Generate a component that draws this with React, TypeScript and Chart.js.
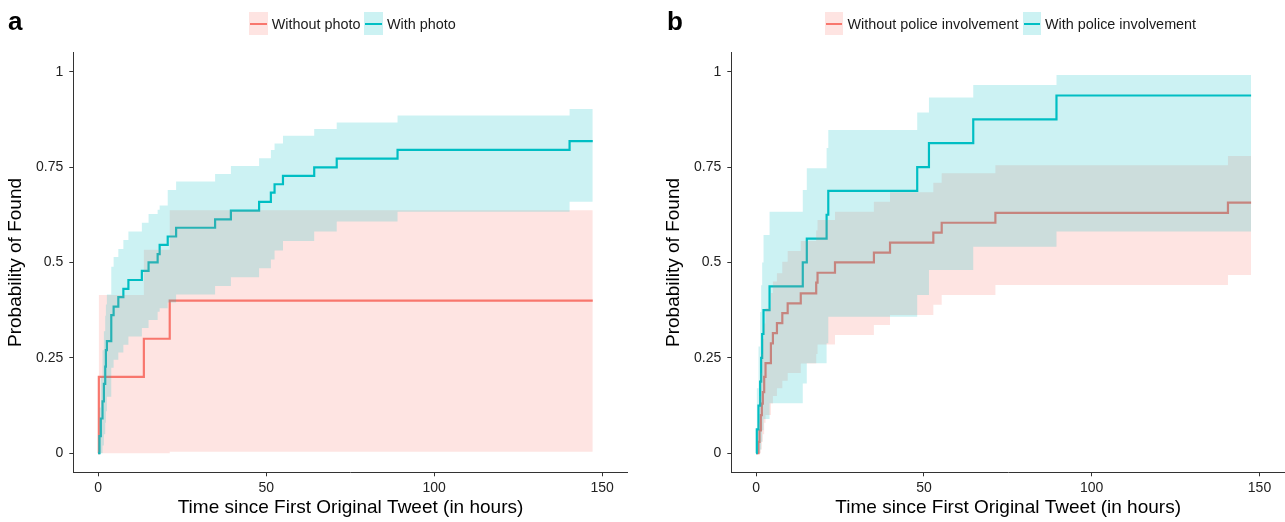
import React, { useEffect, useRef } from "react";
import { Chart, registerables } from "chart.js";

Chart.register(...registerables);

const FONT = "'Liberation Sans', Arial, Helvetica, sans-serif";
const RED = "#F8766D";
const CYAN = "#00BFC4";
const RED_FILL = "rgba(248,118,109,0.2)";
const CYAN_FILL = "rgba(0,191,196,0.2)";
const TRANSPARENT = "rgba(0,0,0,0)";

// ---------- shared axis setup ----------
const xTicks = [0, 50, 100, 150];
const yTicks = [0, 0.25, 0.5, 0.75, 1];
const yTickLabels = ["0", "0.25", "0.5", "0.75", "1"];
const xTitle = "Time since First Original Tweet (in hours)";
const yTitle = "Probability of Found";

// ---------- panel a ----------
const aLegend = ["Without photo", "With photo"];

const aNoPhotoTime = [0, 0.2, 13.6, 21.3, 147.2];
const aNoPhotoSurv = [0, 0.2, 0.3, 0.4, 0.4];
const aNoPhotoUpper = [0, 0.415, 0.533, 0.637, 0.637];
const aNoPhotoLower = [0, 0, 0, 0.004, 0.004];

const aPhotoTime = [0, 0.4, 0.8, 1.3, 1.7, 2.1, 2.3, 2.6, 3.9, 4.6, 6.0, 7.5, 9.0, 13.0, 15.0, 17.7, 18.3, 20.7, 23.2, 34.8, 39.5, 47.9, 51.4, 52.5, 55.0, 64.3, 71.0, 89.1, 140.3, 147.2];
const aPhotoSurv = [0, 0.045, 0.091, 0.136, 0.182, 0.227, 0.27, 0.294, 0.362, 0.384, 0.409, 0.431, 0.454, 0.478, 0.5, 0.522, 0.546, 0.568, 0.591, 0.613, 0.636, 0.659, 0.683, 0.705, 0.727, 0.749, 0.772, 0.795, 0.818, 0.818];
const aPhotoUpper = [0, 0.12, 0.2, 0.27, 0.32, 0.36, 0.39, 0.416, 0.489, 0.514, 0.535, 0.559, 0.581, 0.604, 0.627, 0.638, 0.649, 0.69, 0.712, 0.732, 0.753, 0.773, 0.795, 0.812, 0.832, 0.85, 0.867, 0.885, 0.902, 0.902];
const aPhotoLower = [0, 0, 0, 0.02, 0.05, 0.08, 0.11, 0.148, 0.224, 0.245, 0.264, 0.284, 0.306, 0.328, 0.349, 0.371, 0.38, 0.395, 0.416, 0.438, 0.461, 0.485, 0.508, 0.531, 0.556, 0.581, 0.607, 0.633, 0.659, 0.659];

// ---------- panel b ----------
const bLegend = ["Without police involvement", "With police involvement"];

const bNoPoliceTime = [0, 0.7, 1.0, 1.4, 1.7, 2.0, 2.4, 2.8, 4.4, 5.0, 6.2, 7.8, 9.4, 13.3, 17.9, 18.3, 23.5, 35.1, 39.9, 52.8, 55.3, 71.3, 140.6, 147.5];
const bNoPoliceSurv = [0, 0.03, 0.06, 0.1, 0.13, 0.16, 0.2, 0.236, 0.288, 0.315, 0.341, 0.367, 0.393, 0.419, 0.447, 0.473, 0.5, 0.526, 0.552, 0.578, 0.604, 0.63, 0.657, 0.657];
const bNoPoliceUpper = [0, 0.08, 0.15, 0.21, 0.26, 0.3, 0.34, 0.38, 0.42, 0.45, 0.472, 0.502, 0.53, 0.556, 0.584, 0.611, 0.633, 0.659, 0.684, 0.709, 0.734, 0.755, 0.779, 0.779];
const bNoPoliceLower = [0, 0, 0, 0.01, 0.03, 0.05, 0.08, 0.1, 0.13, 0.15, 0.17, 0.19, 0.21, 0.235, 0.26, 0.285, 0.31, 0.336, 0.362, 0.389, 0.415, 0.441, 0.467, 0.467];

const bPoliceTime = [0, 0.2, 0.7, 1.2, 1.5, 1.8, 2.2, 4.0, 13.9, 15.1, 21.0, 21.5, 48.0, 51.5, 64.7, 89.5, 147.5];
const bPoliceSurv = [0, 0.0625, 0.125, 0.1875, 0.25, 0.3125, 0.375, 0.4375, 0.5, 0.5625, 0.625, 0.6875, 0.75, 0.8125, 0.875, 0.9375, 0.9375];
const bPoliceUpper = [0, 0.17, 0.28, 0.37, 0.44, 0.5, 0.572, 0.633, 0.69, 0.747, 0.8, 0.847, 0.893, 0.932, 0.965, 0.991, 0.991];
const bPoliceLower = [0, 0, 0, 0.01, 0.03, 0.06, 0.09, 0.131, 0.183, 0.236, 0.288, 0.358, 0.415, 0.48, 0.541, 0.581, 0.581];

const pts = (t: number[], v: number[]) => t.map((x, i) => ({ x, y: v[i] }));

type Group = { time: number[]; surv: number[]; upper: number[]; lower: number[] };

function buildConfig(g1: Group, g2: Group, padRight: number): any {
  const base = { pointRadius: 0, pointHoverRadius: 0, stepped: true, tension: 0 };
  return {
    type: "line",
    data: {
      datasets: [
        { ...base, data: pts(g2.time, g2.upper), borderColor: TRANSPARENT, borderWidth: 0, backgroundColor: CYAN_FILL, fill: "+1", order: 1 },
        { ...base, data: pts(g2.time, g2.lower), borderColor: TRANSPARENT, borderWidth: 0, fill: false, order: 1 },
        { ...base, data: pts(g1.time, g1.upper), borderColor: TRANSPARENT, borderWidth: 0, backgroundColor: RED_FILL, fill: "+1", order: 2 },
        { ...base, data: pts(g1.time, g1.lower), borderColor: TRANSPARENT, borderWidth: 0, fill: false, order: 2 },
        { ...base, data: pts(g2.time, g2.surv), borderColor: CYAN, borderWidth: 2.2, fill: false, order: 3 },
        { ...base, data: pts(g1.time, g1.surv), borderColor: RED, borderWidth: 2.2, fill: false, order: 4 },
      ],
    },
    options: {
      responsive: false,
      animation: false,
      events: [],
      layout: { padding: { left: 0, right: padRight, top: 52.6, bottom: 0 } },
      plugins: { legend: { display: false }, tooltip: { enabled: false }, title: { display: false } },
      scales: {
        x: {
          type: "linear",
          min: -7.4,
          max: 157.6,
          afterBuildTicks: (s: any) => {
            s.ticks = xTicks.map((v) => ({ value: v }));
          },
          afterFit: (s: any) => {
            s.height = 49.7;
          },
          ticks: {
            font: { family: FONT, size: 14 },
            color: "#222",
            padding: 3,
            maxRotation: 0,
            autoSkip: false,
            callback: (v: any) => String(v),
          },
          grid: { drawOnChartArea: false, drawTicks: true, tickLength: 4, color: "#333", lineWidth: 1 },
          border: { display: true, color: "#333", width: 1 },
          title: {
            display: true,
            text: xTitle,
            color: "#000",
            font: { family: FONT, size: 19 },
            padding: { top: 0, bottom: 2.5 },
          },
        },
        y: {
          type: "linear",
          min: -0.05,
          max: 1.05,
          afterBuildTicks: (s: any) => {
            s.ticks = yTicks.map((v) => ({ value: v }));
          },
          afterFit: (s: any) => {
            s.width = 73.3;
          },
          ticks: {
            font: { family: FONT, size: 14 },
            color: "#222",
            padding: 6,
            callback: (v: any) => {
              const i = yTicks.indexOf(v);
              return i >= 0 ? yTickLabels[i] : "";
            },
          },
          grid: { drawOnChartArea: false, drawTicks: true, tickLength: 4, color: "#333", lineWidth: 1 },
          border: { display: true, color: "#333", width: 1 },
          title: {
            display: true,
            text: yTitle,
            color: "#000",
            font: { family: FONT, size: 19 },
            padding: { top: 4.5, bottom: 0 },
          },
        },
      },
    },
  };
}

function Panel({ left, width, padRight, g1, g2 }: { left: number; width: number; padRight: number; g1: Group; g2: Group }) {
  const ref = useRef<HTMLCanvasElement | null>(null);
  useEffect(() => {
    if (!ref.current) return;
    const chart = new Chart(ref.current, buildConfig(g1, g2, padRight));
    return () => chart.destroy();
  }, []);
  return (
    <canvas
      ref={ref}
      width={width}
      height={522}
      style={{ position: "absolute", left, top: 0, width, height: 522 }}
    />
  );
}

function Key({ fill, color }: { fill: string; color: string }) {
  return (
    <div style={{ width: 18.4, height: 23.3, background: fill, position: "relative", flex: "none" }}>
      <div style={{ position: "absolute", left: 1, right: 1, top: 10.6, height: 2.1, background: color }} />
    </div>
  );
}

function Legend({ left, labels }: { left: number; labels: string[] }) {
  return (
    <div
      style={{
        position: "absolute",
        left,
        top: 12,
        height: 23.3,
        display: "flex",
        alignItems: "center",
        fontFamily: FONT,
        fontSize: 14.4,
        color: "#1a1a1a",
        whiteSpace: "nowrap",
      }}
    >
      <Key fill={RED_FILL} color={RED} />
      <span style={{ marginLeft: 4, marginRight: 4 }}>{labels[0]}</span>
      <Key fill={CYAN_FILL} color={CYAN} />
      <span style={{ marginLeft: 4 }}>{labels[1]}</span>
    </div>
  );
}

function PanelTag({ left, text }: { left: number; text: string }) {
  return (
    <div
      style={{
        position: "absolute",
        left,
        top: 8,
        fontFamily: FONT,
        fontWeight: "bold",
        fontSize: 26,
        lineHeight: "26px",
        color: "#000",
      }}
    >
      {text}
    </div>
  );
}

export default function App() {
  const a1: Group = { time: aNoPhotoTime, surv: aNoPhotoSurv, upper: aNoPhotoUpper, lower: aNoPhotoLower };
  const a2: Group = { time: aPhotoTime, surv: aPhotoSurv, upper: aPhotoUpper, lower: aPhotoLower };
  const b1: Group = { time: bNoPoliceTime, surv: bNoPoliceSurv, upper: bNoPoliceUpper, lower: bNoPoliceLower };
  const b2: Group = { time: bPoliceTime, surv: bPoliceSurv, upper: bPoliceUpper, lower: bPoliceLower };
  return (
    <div style={{ position: "absolute", left: 0, top: 0, width: 1285, height: 522, background: "#fff", overflow: "hidden" }}>
      <Panel left={0} width={642} padRight={14.3} g1={a1} g2={a2} />
      <Panel left={658} width={627} padRight={0} g1={b1} g2={b2} />
      <PanelTag left={8} text="a" />
      <PanelTag left={667} text="b" />
      <Legend left={249.3} labels={aLegend} />
      <Legend left={825} labels={bLegend} />
    </div>
  );
}
